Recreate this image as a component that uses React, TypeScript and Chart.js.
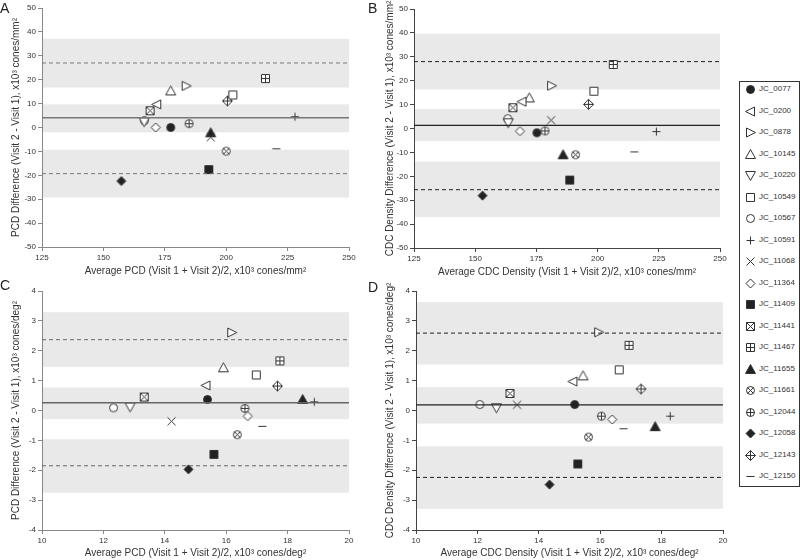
import React, { useEffect, useRef } from "react";
import { Chart, registerables } from "chart.js";
Chart.register(...registerables);

const FONT = "'Liberation Sans', Arial, sans-serif";
Chart.defaults.font.family = FONT;

const subjects = ["JC_0077", "JC_0200", "JC_0878", "JC_10145", "JC_10220", "JC_10549", "JC_10567", "JC_10591", "JC_11068", "JC_11364", "JC_11409", "JC_11441", "JC_11467", "JC_11655", "JC_11661", "JC_12044", "JC_12058", "JC_12143", "JC_12150"];
const markerKinds = ["filledCircle", "triLeft", "triRight", "triUp", "triDown", "square", "circle", "plus", "cross", "diamond", "filledSquare", "boxCross", "boxPlus", "filledTriUp", "circleCross", "circlePlus", "filledDiamond", "diamondPlus", "dash"];

// Panel A: PCD, cones/mm²
const pcdMmAvg = [177.4, 171.7, 183.7, 177.4, 166.6, 202.7, 166.7, 228, 193.7, 171.3, 192.9, 169, 216, 193.7, 200, 184.9, 157.3, 200.5, 220.4];
const pcdMmDiff = [0, 9.7, 17.4, 15.3, 2.4, 13.6, 2.9, 4.5, -4.1, 0, -17.6, 7, 20.5, -2.2, -9.9, 1.6, -22.4, 11.1, -8.9];
const pcdMmBands = [[16.7, 37.1], [-2.0, 9.7], [-29.3, -9.3]];
const pcdMmLines = [4.1, 27.0, -19.3]; // mean, upper LoA, lower LoA

// Panel B: CDC density, cones/mm²
const cdcMmAvg = [175.2, 169.1, 181.2, 172.1, 163.5, 198.5, 163.3, 224, 181, 168.3, 188.6, 165.4, 206.4, 185.9, 191, 178.5, 153, 196.3, 215];
const cdcMmDiff = [-1.8, 11.2, 17.9, 12.8, 2.4, 15.6, 4.1, -1.3, 3.5, -1.1, -21.6, 8.7, 26.8, -11, -11, -1, -28.1, 10.1, -9.8];
const cdcMmBands = [[16.3, 39.7], [-5.2, 8.1], [-37, -13.8]];
const cdcMmLines = [1.3, 28.0, -25.6];

// Panel C: PCD, cones/deg²
const pcdDegAvg = [15.39, 15.34, 16.18, 15.91, 12.87, 16.98, 12.33, 18.87, 14.22, 16.7, 15.6, 13.33, 17.75, 18.49, 16.36, 16.61, 14.77, 17.67, 17.18];
const pcdDegDiff = [0.37, 0.84, 2.61, 1.43, 0.12, 1.19, 0.09, 0.29, -0.36, -0.19, -1.47, 0.45, 1.66, 0.37, -0.81, 0.07, -1.97, 0.82, -0.53];
const pcdDegBands = [[1.46, 3.29], [-0.29, 0.77], [-2.75, -0.96]];
const pcdDegLines = [0.26, 2.37, -1.85];

// Panel D: CDC density, cones/deg²
const cdcDegAvg = [15.17, 15.11, 15.95, 15.44, 12.62, 16.62, 12.08, 18.28, 13.29, 16.39, 15.27, 13.06, 16.94, 17.79, 15.62, 16.04, 14.35, 17.33, 16.76];
const cdcDegDiff = [0.2, 0.97, 2.62, 1.16, 0.09, 1.36, 0.2, -0.19, 0.19, -0.3, -1.79, 0.57, 2.18, -0.54, -0.89, -0.19, -2.48, 0.72, -0.61];
const cdcDegBands = [[1.54, 3.63], [-0.44, 0.78], [-3.29, -1.2]];
const cdcDegLines = [0.19, 2.59, -2.24];

const mmXTicks = [125, 250, 25];
const mmYTicks = [-50, 50, 10];
const degXTicks = [10, 20, 2];
const degYTicks = [-4, 4, 1];

function drawMarker(g: CanvasRenderingContext2D, kind: string, cx: number, cy: number) {
  const stroke = "#333";
  const dark = "#222";
  g.save();
  g.lineWidth = 1;
  g.strokeStyle = stroke;
  const poly = (pts: number[][], filled: boolean) => {
    g.beginPath();
    pts.forEach(([x, y], i) => (i ? g.lineTo(cx + x, cy + y) : g.moveTo(cx + x, cy + y)));
    g.closePath();
    g.fillStyle = filled ? dark : "#fff";
    g.fill();
    g.stroke();
  };
  const line = (x1: number, y1: number, x2: number, y2: number) => {
    g.beginPath();
    g.moveTo(cx + x1, cy + y1);
    g.lineTo(cx + x2, cy + y2);
    g.stroke();
  };
  const circ = (r: number, filled: boolean) => {
    g.beginPath();
    g.arc(cx, cy, r, 0, Math.PI * 2);
    g.fillStyle = filled ? dark : "#fff";
    g.fill();
    g.stroke();
  };
  const sq = [[-4, -4], [4, -4], [4, 4], [-4, 4]];
  const dia = [[0, -5], [5, 0], [0, 5], [-5, 0]];
  switch (kind) {
    case "filledCircle": circ(4, true); break;
    case "circle": circ(4, false); break;
    case "triLeft": poly([[-5, 0], [4, -4.5], [4, 4.5]], false); break;
    case "triRight": poly([[5, 0], [-4, -4.5], [-4, 4.5]], false); break;
    case "triUp": poly([[0, -5], [5, 4], [-5, 4]], false); break;
    case "triDown": poly([[0, 5], [5, -4], [-5, -4]], false); break;
    case "filledTriUp": poly([[0, -5], [5, 4], [-5, 4]], true); break;
    case "square": poly(sq, false); break;
    case "filledSquare": poly(sq, true); break;
    case "plus": line(-4, 0, 4, 0); line(0, -4, 0, 4); break;
    case "cross": line(-4, -4, 4, 4); line(-4, 4, 4, -4); break;
    case "diamond": poly([[0, -4.5], [4.5, 0], [0, 4.5], [-4.5, 0]], false); break;
    case "filledDiamond": poly([[0, -4.5], [4.5, 0], [0, 4.5], [-4.5, 0]], true); break;
    case "boxCross": poly(sq, false); line(-4, -4, 4, 4); line(-4, 4, 4, -4); break;
    case "boxPlus": poly(sq, false); line(-4, 0, 4, 0); line(0, -4, 0, 4); break;
    case "circleCross": circ(4, false); line(-2.8, -2.8, 2.8, 2.8); line(-2.8, 2.8, 2.8, -2.8); break;
    case "circlePlus": circ(4, false); line(-4, 0, 4, 0); line(0, -4, 0, 4); break;
    case "diamondPlus": poly(dia, false); line(-5, 0, 5, 0); line(0, -5, 0, 5); break;
    case "dash": line(-4, 0, 4, 0); break;
  }
  g.restore();
}

function makeMarker(kind: string): HTMLCanvasElement {
  const c = document.createElement("canvas");
  c.width = 13;
  c.height = 13;
  const g = c.getContext("2d")!;
  drawMarker(g, kind, 6.5, 6.5);
  return c;
}

const bandsPlugin = {
  id: "bands",
  beforeDraw(chart: any, _args: any, opts: any) {
    const { ctx, scales } = chart;
    const x = scales.x, y = scales.y;
    const l = x.getPixelForValue(x.min) + 1;
    const r = x.getPixelForValue(x.max);
    ctx.save();
    ctx.fillStyle = opts.color || "#e8e8e8";
    for (const [lo, hi] of opts.bands || []) {
      const y1 = y.getPixelForValue(hi);
      const y2 = y.getPixelForValue(lo);
      ctx.fillRect(l, y1, r - l, y2 - y1);
    }
    ctx.restore();
  },
};

type PanelProps = {
  xs: number[]; ys: number[]; bands: number[][]; lines: number[];
  xTicks: number[]; yTicks: number[]; xTitle: string; yTitle: string;
  left: number; top: number; width: number; height: number;
  padTop: number; padRight: number; yWidth: number; xHeight: number;
  yTitlePad: number; xTitlePad: number; lineColor: string; axisColor: string; meanWidth: number;
};

function Panel(p: PanelProps) {
  const ref = useRef<HTMLCanvasElement>(null);
  useEffect(() => {
    const [xMin, xMax, xStep] = p.xTicks;
    const [yMin, yMax, yStep] = p.yTicks;
    const [mean, upper, lower] = p.lines;
    const hline = (v: number, dash: number[], w: number) => ({
      type: "line" as const,
      data: [{ x: xMin, y: v }, { x: xMax, y: v }],
      showLine: true,
      borderColor: p.lineColor,
      borderWidth: w,
      borderDash: dash,
      pointRadius: 0,
      fill: false,
    });
    const pointSets = subjects.map((s, i) => ({
      type: "scatter" as const,
      label: s,
      data: [{ x: p.xs[i], y: p.ys[i] }],
      pointStyle: makeMarker(markerKinds[i]) as any,
      pointRadius: 5,
    }));
    const textColor = "#333";
    const chart = new Chart(ref.current!, {
      type: "scatter",
      data: {
        datasets: [hline(mean, [], p.meanWidth), hline(upper, [4, 3], 1), hline(lower, [4, 3], 1), ...pointSets] as any,
      },
      plugins: [bandsPlugin],
      options: {
        animation: false,
        responsive: false,
        events: [],
        layout: { padding: { top: p.padTop, right: p.padRight, left: 0, bottom: 0 } },
        plugins: {
          legend: { display: false },
          tooltip: { enabled: false },
          bands: { bands: p.bands, color: "#e9e9e9" },
        } as any,
        scales: {
          x: {
            type: "linear",
            min: xMin,
            max: xMax,
            afterFit: (s: any) => { s.height = p.xHeight; },
            ticks: { stepSize: xStep, font: { size: 8 }, color: textColor, padding: 2, maxRotation: 0, autoSkip: false },
            grid: { display: true, drawOnChartArea: false, drawTicks: true, tickLength: 4, tickColor: p.axisColor, color: p.axisColor },
            border: { display: true, color: p.axisColor, width: 1 },
            title: { display: true, text: p.xTitle, font: { size: 10 }, color: textColor, padding: { top: 0, bottom: p.xTitlePad } },
          },
          y: {
            type: "linear",
            min: yMin,
            max: yMax,
            afterFit: (s: any) => { s.width = p.yWidth; },
            ticks: { stepSize: yStep, font: { size: 8 }, color: textColor, padding: 2, autoSkip: false },
            grid: { display: true, drawOnChartArea: false, drawTicks: true, tickLength: 4, tickColor: p.axisColor, color: p.axisColor },
            border: { display: true, color: p.axisColor, width: 1 },
            title: { display: true, text: p.yTitle, font: { size: 10 }, color: textColor, padding: { top: p.yTitlePad, bottom: 0 } },
          },
        },
      } as any,
    });
    return () => chart.destroy();
  }, []);
  return (
    <canvas
      ref={ref}
      width={p.width}
      height={p.height}
      style={{ position: "absolute", left: p.left, top: p.top, width: p.width, height: p.height }}
    />
  );
}

function LegendIcon({ kind }: { kind: string }) {
  const ref = useRef<HTMLCanvasElement>(null);
  useEffect(() => {
    const g = ref.current!.getContext("2d")!;
    g.clearRect(0, 0, 13, 13);
    drawMarker(g, kind, 6.5, 6.5);
  }, [kind]);
  return <canvas ref={ref} width={13} height={13} style={{ position: "absolute", left: 4, top: -6, width: 13, height: 13 }} />;
}

function Legend() {
  return (
    <div style={{ position: "absolute", left: 739, top: 81, width: 61, height: 406, border: "1px solid #333", boxSizing: "border-box", background: "#fff" }}>
      {subjects.map((s, i) => (
        <div key={s} style={{ position: "absolute", left: 0, top: 7 + i * 21.5, width: 59, height: 0 }}>
          <LegendIcon kind={markerKinds[i]} />
          <span style={{ position: "absolute", left: 19, top: -5, fontFamily: FONT, fontSize: 8, lineHeight: "10px", color: "#333", whiteSpace: "nowrap" }}>{s}</span>
        </div>
      ))}
    </div>
  );
}

const letterStyle = (left: number, top: number): React.CSSProperties => ({
  position: "absolute", left, top, fontFamily: FONT, fontSize: 14, lineHeight: "14px", color: "#222",
});

export default function App() {
  return (
    <div style={{ position: "fixed", left: 0, top: 0, width: 800, height: 560, background: "#fff", overflow: "hidden" }}>
      <Panel xs={pcdMmAvg} ys={pcdMmDiff} bands={pcdMmBands} lines={pcdMmLines} xTicks={mmXTicks} yTicks={mmYTicks}
        xTitle="Average PCD (Visit 1 + Visit 2)/2, x10³ cones/mm²" yTitle="PCD Difference (Visit 2 - Visit 1), x10³ cones/mm²"
        left={0} top={0} width={360} height={280} padTop={8} padRight={11} yWidth={42} xHeight={33} yTitlePad={10} xTitlePad={3}
        lineColor="#777" axisColor="#888" meanWidth={1.5} />
      <Panel xs={cdcMmAvg} ys={cdcMmDiff} bands={cdcMmBands} lines={cdcMmLines} xTicks={mmXTicks} yTicks={mmYTicks}
        xTitle="Average CDC Density (Visit 1 + Visit 2)/2, x10³ cones/mm²" yTitle="CDC Density Difference (Visit 2 - Visit 1), x10³ cones/mm²"
        left={378} top={0} width={354} height={280} padTop={9} padRight={12} yWidth={36} xHeight={32} yTitlePad={6} xTitlePad={2}
        lineColor="#222" axisColor="#444" meanWidth={1.2} />
      <Panel xs={pcdDegAvg} ys={pcdDegDiff} bands={pcdDegBands} lines={pcdDegLines} xTicks={degXTicks} yTicks={degYTicks}
        xTitle="Average PCD (Visit 1 + Visit 2)/2, x10³ cones/deg²" yTitle="PCD Difference (Visit 2 - Visit 1), x10³ cones/deg²"
        left={0} top={282} width={360} height={278} padTop={9} padRight={11} yWidth={42} xHeight={30} yTitlePad={10} xTitlePad={1}
        lineColor="#666" axisColor="#888" meanWidth={1.5} />
      <Panel xs={cdcDegAvg} ys={cdcDegDiff} bands={cdcDegBands} lines={cdcDegLines} xTicks={degXTicks} yTicks={degYTicks}
        xTitle="Average CDC Density (Visit 1 + Visit 2)/2, x10³ cones/deg²" yTitle="CDC Density Difference (Visit 2 - Visit 1), x10³ cones/deg²"
        left={378} top={282} width={354} height={278} padTop={9} padRight={9} yWidth={38} xHeight={30} yTitlePad={6} xTitlePad={1}
        lineColor="#222" axisColor="#444" meanWidth={1.2} />
      <div style={letterStyle(0, 1)}>A</div>
      <div style={letterStyle(368, 1)}>B</div>
      <div style={letterStyle(0, 278)}>C</div>
      <div style={letterStyle(368, 280)}>D</div>
      <Legend />
    </div>
  );
}
